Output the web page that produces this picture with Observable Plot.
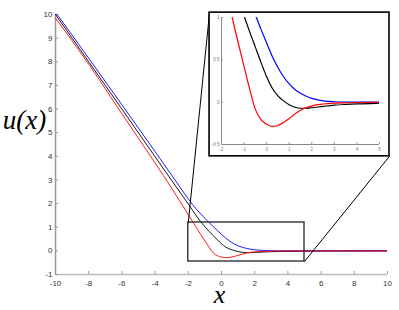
<!DOCTYPE html>
<html><head><meta charset="utf-8">
<script src="https://cdn.jsdelivr.net/npm/d3@7"></script>
<script src="https://cdn.jsdelivr.net/npm/@observablehq/plot@0.6"></script>
<style>
body{margin:0;background:#fff;}
#wrap{position:relative;width:399px;height:310px;}
#wrap svg{display:block;}
#inset{position:absolute;}
</style></head><body><div id="wrap"></div>
<script>
const xs    = [-10, -8, -6, -4, -3, -2, -1.5, -1.25, -1, -0.75, -0.5, -0.25, 0, 0.25, 0.5, 0.75, 1, 1.25, 1.5, 1.75, 2, 2.5, 3, 3.5, 4, 5, 7, 10];
const red   = [9.85, 7.9, 5.8, 3.72, 2.65, 1.53, 0.97, 0.69, 0.42, 0.155, -0.085, -0.205, -0.26, -0.287, -0.275, -0.24, -0.193, -0.14, -0.095, -0.063, -0.043, -0.022, -0.012, -0.007, -0.004, -0.001, 0, 0];
const black = [10.0, 8.0, 6.0, 3.98, 2.98, 1.98, 1.47, 1.23, 1.02, 0.83, 0.65, 0.47, 0.30, 0.165, 0.075, 0.015, -0.03, -0.06, -0.072, -0.072, -0.066, -0.05, -0.036, -0.027, -0.02, -0.012, -0.004, 0];
const blue  = [10.1, 8.15, 6.18, 4.2, 3.2, 2.2, 1.75, 1.56, 1.38, 1.2, 1.03, 0.86, 0.70, 0.54, 0.41, 0.30, 0.215, 0.15, 0.105, 0.07, 0.045, 0.016, 0.005, 0.001, 0, 0, 0, 0];

const seriesNames  = ["black", "blue", "red"];
const seriesColors = ["#000000", "#0000ff", "#ff0000"];

const xTicks = [-10, -8, -6, -4, -2, 0, 2, 4, 6, 8, 10];
const yTicks = [-1, 0, 1, 2, 3, 4, 5, 6, 7, 8, 9, 10];
const insetXTicks = [-2, -1, 0, 1, 2, 3, 4, 5];
const insetYTicks = [-0.5, 0, 0.5, 1];

const xDomain = [-10, 10];
const yDomain = [-1, 10];
const insetXDomain = [-2, 5];
const insetYDomain = [-0.5, 1];

// zoom rectangle and inset box (main-plot data units)
const zoomX  = [-2, 5];
const zoomY  = [-0.45, 1.2];
const insetX = [-0.72, 10.12];
const insetY = [4.0, 10.08];

const valuesBy = {black, blue, red};
const rows = seriesNames.flatMap(s => xs.map((x, i) => ({x, u: valuesBy[s][i], s})));
const colorOpts = {domain: seriesNames, range: seriesColors};
const fmt = d => String(d);

const links = [
  {x1: zoomX[0], y1: zoomY[1], x2: insetX[0], y2: insetY[1]},
  {x1: zoomX[1], y1: zoomY[0], x2: insetX[1], y2: insetY[0]}
];

const mainPlot = Plot.plot({
  width: 399, height: 310,
  marginLeft: 55, marginRight: 12, marginTop: 14, marginBottom: 36,
  x: {domain: xDomain}, y: {domain: yDomain},
  color: colorOpts,
  style: {background: "white", fontFamily: "'Liberation Sans', Arial, sans-serif", fontSize: "8px", color: "#333"},
  marks: [
    Plot.ruleX([xDomain[0]], {stroke: "#999", strokeWidth: 1.5}),
    Plot.ruleY([yDomain[0]], {stroke: "#bbb", strokeWidth: 1.5}),
    Plot.axisY({ticks: yTicks, tickFormat: fmt, tickSize: 3, dx: 3, tickPadding: 3, stroke: "#999", label: null}),
    Plot.axisX({ticks: xTicks, tickFormat: fmt, tickSize: 3, dy: -3, tickPadding: 6, stroke: "#999", label: null}),
    Plot.line(rows, {x: "x", y: "u", z: "s", stroke: "s", strokeWidth: 0.9, curve: "monotone-x", clip: true}),
    Plot.rect([{x1: zoomX[0], x2: zoomX[1], y1: zoomY[0], y2: zoomY[1]}], {x1: "x1", x2: "x2", y1: "y1", y2: "y2", fill: "none", stroke: "#222", strokeWidth: 1.3}),
    Plot.link(links, {x1: "x1", y1: "y1", x2: "x2", y2: "y2", stroke: "#000", strokeWidth: 1}),
    Plot.rect([{x1: insetX[0], x2: insetX[1], y1: insetY[0], y2: insetY[1]}], {x1: "x1", x2: "x2", y1: "y1", y2: "y2", fill: "white", stroke: "#000", strokeWidth: 1.6}),
    Plot.text(["u(x)"], {frameAnchor: "left", dx: -31, dy: -24, textAnchor: "middle", fontSize: 27, fontStyle: "italic", fontFamily: "'Liberation Serif', 'Times New Roman', serif", fill: "#000"}),
    Plot.text(["x"], {frameAnchor: "bottom", dx: -2, dy: 28, textAnchor: "middle", fontSize: 26, fontStyle: "italic", fontFamily: "'Liberation Serif', 'Times New Roman', serif", fill: "#000"})
  ]
});

const wrapEl = document.getElementById("wrap");
wrapEl.appendChild(mainPlot);

const sx = mainPlot.scale("x"), sy = mainPlot.scale("y");
const boxLeft = sx.apply(insetX[0]), boxRight = sx.apply(insetX[1]);
const boxTop = sy.apply(insetY[1]), boxBottom = sy.apply(insetY[0]);

const insetPlot = Plot.plot({
  width: Math.round(boxRight - boxLeft), height: Math.round(boxBottom - boxTop),
  marginLeft: 12, marginRight: 10, marginTop: 5, marginBottom: 12,
  x: {domain: insetXDomain}, y: {domain: insetYDomain},
  color: colorOpts,
  style: {background: "transparent", fontFamily: "'Liberation Sans', Arial, sans-serif", fontSize: "4.5px", color: "#777"},
  marks: [
    Plot.ruleX([insetXDomain[0]], {stroke: "#888", strokeWidth: 1}),
    Plot.ruleY([insetYDomain[0]], {stroke: "#888", strokeWidth: 1}),
    Plot.axisY({ticks: insetYTicks, tickFormat: fmt, tickSize: 2, dx: 2, tickPadding: 2, stroke: "#999", label: null}),
    Plot.axisX({ticks: insetXTicks, tickFormat: fmt, tickSize: 2, dy: -2, tickPadding: 3, stroke: "#999", label: null}),
    Plot.line(rows, {x: "x", y: "u", z: "s", stroke: "s", strokeWidth: 1.2, curve: "monotone-x", clip: true})
  ]
});
insetPlot.id = "inset";
insetPlot.style.left = boxLeft + "px";
insetPlot.style.top = boxTop + "px";
wrapEl.appendChild(insetPlot);
</script></body></html>
